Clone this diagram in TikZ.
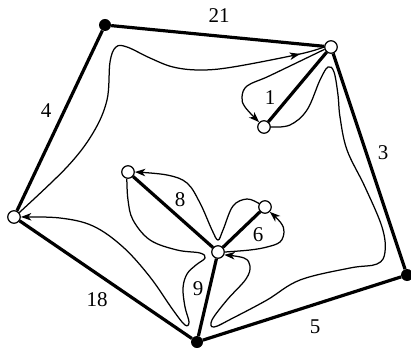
\documentclass[tikz,border=0pt]{standalone}
\usepackage{fontspec}
\setmainfont{Liberation Serif}
\usetikzlibrary{arrows.meta,decorations.markings}
\begin{document}
\begin{tikzpicture}[x=1pt,y=-1pt,
  opennode/.style={circle,draw,fill=white,minimum size=12.5pt,inner sep=0pt,line width=1.2pt},
  fullnode/.style={circle,fill=black,minimum size=12pt,inner sep=0pt},
  treeedge/.style={line width=3.2pt},
  walk/.style={line width=1.25pt,line join=round},
  tip/.style={-{Stealth[length=10.5pt,width=7.5pt,inset=3pt]}},
  lbl/.style={font=\fontsize{21}{24}\selectfont,inner sep=0pt}]
\useasboundingbox (0,0) rectangle (411,347);
% vertices
\node[fullnode] (A) at (105,25) {};
\node[opennode] (B) at (331,47) {};
\node[opennode] (C) at (264,127) {};
\node[fullnode] (D) at (407,275) {};
\node[fullnode] (E) at (197,342) {};
\node[opennode] (F) at (14,217) {};
\node[opennode] (G) at (218,252) {};
\node[opennode] (H) at (128,172) {};
\node[opennode] (I) at (265,207) {};
% tree edges
\draw[treeedge] (A) -- (B);
\draw[treeedge] (B) -- (C);
\draw[treeedge] (B) -- (D);
\draw[treeedge] (D) -- (E);
\draw[treeedge] (E) -- (F);
\draw[treeedge] (F) -- (A);
\draw[treeedge] (G) -- (H);
\draw[treeedge] (G) -- (I);
\draw[treeedge] (G) -- (E);
% labels
\node[lbl] (l21) at (219,16) {21};
\node[lbl] (l1) at (270,98) {1};
\node[lbl] (l3) at (383,153) {3};
\node[lbl] (l4) at (46,111) {4};
\node[lbl] (l18) at (97,300) {18};
\node[lbl] (l5) at (315,327) {5};
\node[lbl] (l8) at (180,200) {8};
\node[lbl] (l6) at (258,235) {6};
\node[lbl] (l9) at (198,289) {9};
% walk
\draw[walk,postaction={decorate},decoration={markings,mark=at position -25pt with {\arrow{Stealth[length=10.5pt,width=7.5pt,inset=3pt]}}}]
  plot[smooth,tension=0.6] coordinates {(F.40) (67,167) (93,133) (107,100) (110,62) (116,47) (127,47) (150,58) (173,67) (200,70) (233,67) (300,54) (B.west)};
\draw[walk,tip] plot[smooth,tension=0.6] coordinates {(B.200) (290,66) (267,77) (247,86) (242,97) (245,107) (C.135)};
\draw[walk,tip] plot[smooth,tension=0.6] coordinates {(C.east) (290,125) (307,110) (320,80) (328,67) (334,72) (338,95) (340,117) (347,150) (365,187) (382,227) (385,252) (377,264) (350,268) (300,280) (267,300) (233,318) (214,327) (212,320) (227,300) (246,279) (250,266) (244,258) (G.-25)};
\draw[walk,tip] plot[smooth,tension=0.6] coordinates {(G.east) (250,250) (267,247) (280,242) (284,232) (281,223) (I.-45)};
\draw[walk,tip] plot[smooth,tension=0.6] coordinates {(I.150) (247,199) (233,206) (223,230) (218,240) (212,230) (200,203) (187,183) (167,175) (H.east)};
\draw[walk,tip] plot[smooth,tension=0.6] coordinates {(H.-100) (128,200) (133,220) (150,240) (177,250) (200,253) (205,258) (196,265) (187,274) (183,288) (185,307) (189,322) (185,325) (173,310) (150,277) (123,247) (93,226) (60,218) (F.east)};
\end{tikzpicture}
\end{document}
